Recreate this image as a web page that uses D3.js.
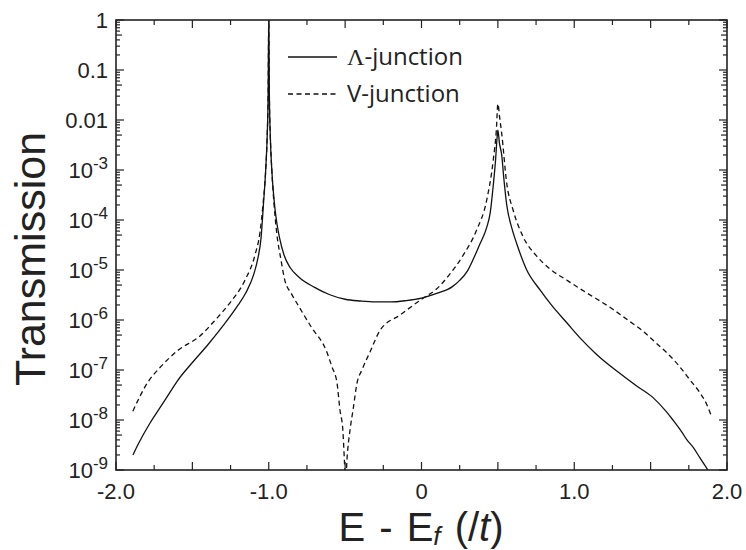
<!DOCTYPE html>
<html><head><meta charset="utf-8">
<script src="https://cdn.jsdelivr.net/npm/d3@7/dist/d3.min.js"></script>
<style>body{margin:0;background:#fff}</style>
</head><body>
<svg id="c" width="746" height="550"></svg>
<script>
// ---- data ----
const lambdaE = [-1.889,-1.85,-1.777,-1.70,-1.666,-1.594,-1.50,-1.40,-1.30,-1.20,-1.15,-1.10,-1.07,-1.05,-1.035,-1.02,-1.01,-1.004,-1.0,-0.996,-0.99,-0.98,-0.965,-0.95,-0.93,-0.90,-0.86,-0.80,-0.70,-0.60,-0.50,-0.40,-0.30,-0.20,-0.10,0.0,0.10,0.20,0.25,0.30,0.337,0.38,0.427,0.45,0.47,0.485,0.495,0.5,0.51,0.525,0.54,0.558,0.59,0.623,0.689,0.776,0.85,0.95,1.05,1.15,1.30,1.40,1.516,1.60,1.646,1.70,1.738,1.78,1.823,1.875];
const lambdaT = [2.0e-9,3.5e-9,8.7e-9,2.0e-8,2.9e-8,6.3e-8,1.41e-7,3.16e-7,7.6e-7,2.0e-6,3.5e-6,7.9e-6,1.78e-5,4.5e-5,2.0e-4,1.0e-3,5.0e-3,3.2e-2,1.0,3.2e-2,5.0e-3,1.0e-3,2.5e-4,1.0e-4,4.5e-5,2.0e-5,1.12e-5,7.1e-6,4.5e-6,3.2e-6,2.6e-6,2.4e-6,2.3e-6,2.3e-6,2.45e-6,2.75e-6,3.4e-6,4.6e-6,6.2e-6,9.5e-6,1.6e-5,3.2e-5,7.1e-5,1.4e-4,5.0e-4,1.6e-3,4.5e-3,6.3e-3,3.5e-3,2.0e-3,6.3e-4,2.0e-4,7.1e-5,3.4e-5,1.0e-5,4.0e-6,2.0e-6,8.9e-7,4.0e-7,2.0e-7,8.5e-8,5.0e-8,2.8e-8,1.5e-8,1.0e-8,6.0e-9,4.0e-9,2.8e-9,1.74e-9,1.0e-9];
const vE = [-1.89,-1.79,-1.712,-1.60,-1.45,-1.35,-1.254,-1.155,-1.09,-1.057,-1.038,-1.02,-1.01,-1.004,-1.0,-0.996,-0.99,-0.98,-0.965,-0.95,-0.92,-0.895,-0.85,-0.80,-0.72,-0.625,-0.586,-0.553,-0.534,-0.515,-0.505,-0.497,-0.488,-0.468,-0.448,-0.422,-0.39,-0.337,-0.27,-0.14,0.0,0.10,0.18,0.274,0.361,0.427,0.47,0.49,0.5,0.512,0.525,0.558,0.599,0.664,0.754,0.84,0.95,1.05,1.15,1.25,1.35,1.45,1.53,1.607,1.692,1.758,1.823,1.869,1.895];
const vT = [1.5e-8,5.8e-8,1.12e-7,2.4e-7,4.8e-7,1.0e-6,2.2e-6,6.3e-6,2.0e-5,5.8e-5,2.0e-4,1.0e-3,5.0e-3,3.2e-2,1.0,3.2e-2,5.0e-3,1.0e-3,2.0e-4,6.3e-5,1.6e-5,6.3e-6,3.3e-6,1.8e-6,7.1e-7,2.5e-7,1.15e-7,5.5e-8,1.6e-8,6.3e-9,1.6e-9,5e-10,1.6e-9,6.3e-9,1.6e-8,5.5e-8,1.0e-7,2.3e-7,6.3e-7,1.26e-6,2.6e-6,4.2e-6,7.9e-6,2.0e-5,6.3e-5,2.5e-4,1.6e-3,6.3e-3,2.1e-2,1.1e-2,5.4e-3,5.4e-4,1.6e-4,4.7e-5,1.9e-5,1.05e-5,6.3e-6,4.0e-6,2.6e-6,1.66e-6,1.0e-6,6.0e-7,3.6e-7,2.2e-7,1.15e-7,6.3e-8,3.5e-8,2.0e-8,1.26e-8];
const xTickLabels = ["-2.0","-1.0","0","1.0","2.0"];
const xTickValues = [-2,-1,0,1,2];
const yTickLabels = [["1",""],["0.1",""],["0.01",""],["10","-3"],["10","-4"],["10","-5"],["10","-6"],["10","-7"],["10","-8"],["10","-9"]];
const yTickValues = [1,1e-1,1e-2,1e-3,1e-4,1e-5,1e-6,1e-7,1e-8,1e-9];
const legendSymbols = ["\u039B","V"];
const legendSuffix = ["-junction","-junction"];

// ---- layout ----
const L=116,R=727,T=20,B=470;
const svg=d3.select("#c");
const x=d3.scaleLinear().domain([-2,2]).range([L,R]);
const y=d3.scaleLog().domain([1e-9,1]).range([B,T]);
const ink="#222";

svg.append("defs").append("clipPath").attr("id","clip").append("rect")
  .attr("x",L).attr("y",T).attr("width",R-L).attr("height",B-T);

const line=d3.line().x(d=>x(d[0])).y(d=>y(d[1])).curve(d3.curveMonotoneX);
const g=svg.append("g").attr("clip-path","url(#clip)");
g.append("path").datum(lambdaE.map((e,i)=>[e,lambdaT[i]]))
  .attr("d",line).attr("fill","none").attr("stroke","#111").attr("stroke-width",1.3);
g.append("path").datum(vE.map((e,i)=>[e,vT[i]]))
  .attr("d",line).attr("fill","none").attr("stroke","#111").attr("stroke-width",1.3)
  .attr("stroke-dasharray","5,3.5");

// ticks
const xt=d3.range(-2,2.001,0.25);
const ax=svg.append("g").attr("stroke",ink).attr("stroke-width",1.2);
xt.forEach(v=>{
  const major=Math.abs(v*2-Math.round(v*2))<1e-6;
  const len=major?8:5;
  ax.append("line").attr("x1",x(v)).attr("x2",x(v)).attr("y1",B).attr("y2",B-len);
  ax.append("line").attr("x1",x(v)).attr("x2",x(v)).attr("y1",T).attr("y2",T+len);
});
for(let p=-9;p<=0;p++){
  const v=Math.pow(10,p);
  ax.append("line").attr("x1",L).attr("x2",L+8).attr("y1",y(v)).attr("y2",y(v));
  ax.append("line").attr("x1",R).attr("x2",R-8).attr("y1",y(v)).attr("y2",y(v));
  if(p<0){
    for(let m=2;m<=9;m++){
      const w=m*v; const len=m===5?6:4;
      ax.append("line").attr("x1",L).attr("x2",L+len).attr("y1",y(w)).attr("y2",y(w));
      ax.append("line").attr("x1",R).attr("x2",R-len).attr("y1",y(w)).attr("y2",y(w));
    }
  }
}
svg.append("rect").attr("x",L).attr("y",T).attr("width",R-L).attr("height",B-T)
  .attr("fill","none").attr("stroke",ink).attr("stroke-width",1.6);

const font="Liberation Sans, Arial, sans-serif";
// x tick labels
xTickValues.forEach((v,i)=>{
  svg.append("text").attr("x",x(v)).attr("y",B+29).attr("text-anchor","middle")
    .attr("font-family",font).attr("font-size",22).attr("fill",ink).text(xTickLabels[i]);
});
// y tick labels
yTickValues.forEach((v,i)=>{
  const t=svg.append("text").attr("x",108).attr("y",y(v)+8).attr("text-anchor","end")
    .attr("font-family",font).attr("font-size",22).attr("fill",ink);
  t.append("tspan").text(yTickLabels[i][0]);
  if(yTickLabels[i][1]) t.append("tspan").attr("dy",-9).attr("font-size",17).text(yTickLabels[i][1]);
});
// axis titles
svg.append("text").attr("transform","translate(45,259) rotate(-90)").attr("text-anchor","middle")
  .attr("font-family",font).attr("font-size",43).attr("fill",ink).text("Transmission");
const xt2=svg.append("text").attr("x",421).attr("y",541).attr("text-anchor","middle")
  .attr("font-family",font).attr("font-size",40).attr("word-spacing",3).attr("fill",ink);
xt2.append("tspan").text("E - E");
xt2.append("tspan").attr("font-size",26).attr("font-style","italic").attr("dy",4).text("f");
xt2.append("tspan").attr("dy",-4).text(" (/");
xt2.append("tspan").attr("font-style","italic").text("t");
xt2.append("tspan").text(")");

// legend
const lg=svg.append("g");
[0,1].forEach(i=>{
  const yy=57+i*37;
  lg.append("line").attr("x1",288).attr("x2",337).attr("y1",yy).attr("y2",yy)
    .attr("stroke","#111").attr("stroke-width",1.5).attr("stroke-dasharray",i?"5,3.5":null);
  const t=lg.append("text").attr("x",347).attr("y",yy+8).attr("font-family","Open Sans, sans-serif")
    .attr("font-size",24).attr("fill",ink);
  t.append("tspan").attr("font-family",i?"Open Sans, sans-serif":"Liberation Serif, serif").text(legendSymbols[i]);
  t.append("tspan").text(legendSuffix[i]);
});
</script>
</body></html>
